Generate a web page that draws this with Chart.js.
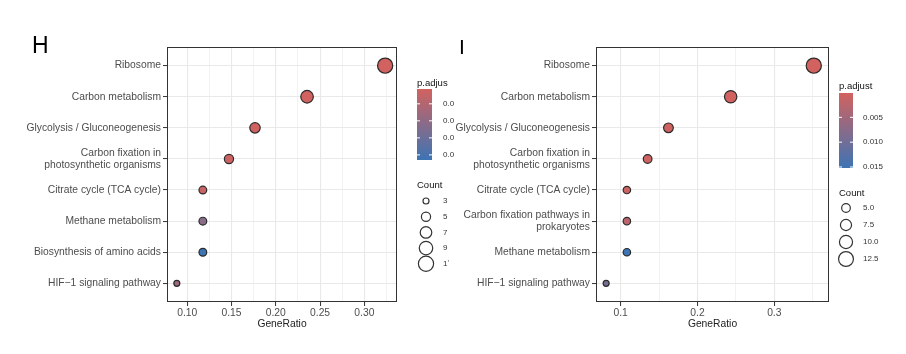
<!DOCTYPE html>
<html lang="en">
<head>
<meta charset="UTF-8" />
<title>KEGG enrichment dot plots H and I</title>
<script src="https://cdn.jsdelivr.net/npm/chart.js"></script>
<style>
  body { margin: 0; background: #fff; }
  #wrap { position: relative; width: 906px; height: 354px; }
  canvas { position: absolute; top: 0; }
</style>
</head>
<body>
<div id="wrap">
  <canvas id="chartH" width="460" height="354" style="left:0"></canvas>
  <canvas id="chartI" width="460" height="354" style="left:446px"></canvas>
</div>
<script>
// ---- panel H data ----
const hPathways = [
  "Ribosome",
  "Carbon metabolism",
  "Glycolysis / Gluconeogenesis",
  "Carbon fixation in\nphotosynthetic organisms",
  "Citrate cycle (TCA cycle)",
  "Methane metabolism",
  "Biosynthesis of amino acids",
  "HIF\u22121 signaling pathway"
];
const hGeneRatio = [0.3235, 0.2353, 0.1765, 0.1471, 0.1176, 0.1176, 0.1176, 0.0882];
const hCount = [11, 8, 6, 5, 4, 4, 4, 3];
const hPadj = [0.0013, 0.0016, 0.0022, 0.0030, 0.0035, 0.0215, 0.0430, 0.0160];
const hPadjTicks = [0.01, 0.02, 0.03, 0.04];
const hPadjLabels = ["0.0", "0.0", "0.0", "0.0"];   // cut off in the original figure
const hCountBreaks = [3, 5, 7, 9, 11];
const hCountLabels = ["3", "5", "7", "9", "1\u02BC"];

// ---- panel I data ----
const iPathways = [
  "Ribosome",
  "Carbon metabolism",
  "Glycolysis / Gluconeogenesis",
  "Carbon fixation in\nphotosynthetic organisms",
  "Citrate cycle (TCA cycle)",
  "Carbon fixation pathways in\nprokaryotes",
  "Methane metabolism",
  "HIF\u22121 signaling pathway"
];
const iGeneRatio = [0.3514, 0.2432, 0.1622, 0.1351, 0.1081, 0.1081, 0.1081, 0.0811];
const iCount = [13, 9, 6, 5, 4, 4, 4, 3];
const iPadj = [0.0001, 0.0002, 0.0004, 0.0006, 0.0008, 0.0025, 0.0152, 0.0092];
const iPadjTicks = [0.005, 0.010, 0.015];
const iPadjLabels = ["0.005", "0.010", "0.015"];
const iCountBreaks = [5, 7.5, 10, 12.5];
const iCountLabels = ["5.0", "7.5", "10.0", "12.5"];

const FONT = '"Liberation Sans", Arial, Helvetica, sans-serif';
const LOW = [210, 98, 95];    // small p.adjust
const HIGH = [61, 116, 180];  // large p.adjust
const CLEAR = "rgba(0,0,0,0)";

function mixColor(t) {
  t = Math.max(0, Math.min(1, t));
  const c = LOW.map((v, k) => Math.round(v + (HIGH[k] - v) * t));
  return `rgb(${c[0]},${c[1]},${c[2]})`;
}

// area scale like ggplot's scale_size
function radiusFor(c, cMin, cMax) {
  const rMin = 3, rMax = 7.6;
  const t = (c - cMin) / (cMax - cMin);
  return Math.sqrt(rMin * rMin + (rMax * rMax - rMin * rMin) * t);
}

const isMult = (v, s) => Math.abs(v / s - Math.round(v / s)) < 1e-6;

const frameAndLegend = {
  id: "frameAndLegend",
  afterDraw(chart, args, o) {
    const ctx = chart.ctx;
    const a = chart.chartArea;
    ctx.save();
    // panel border
    ctx.strokeStyle = "#333";
    ctx.lineWidth = 1;
    ctx.strokeRect(Math.round(a.left) + 0.5, Math.round(a.top) + 0.5,
      Math.round(a.right - a.left) - 1, Math.round(a.bottom - a.top) - 1);

    // panel letter
    ctx.fillStyle = "#000";
    ctx.textAlign = "left";
    ctx.textBaseline = "alphabetic";
    ctx.font = `${o.letterSize}px ${FONT}`;
    ctx.fillText(o.letter, o.letterX, o.letterY);

    // colour bar
    ctx.textBaseline = "middle";
    ctx.font = `9.5px ${FONT}`;
    ctx.fillStyle = "#111";
    ctx.fillText(o.colorTitle, o.barX, o.colorTitleY);
    const g = ctx.createLinearGradient(0, o.barTop, 0, o.barBottom);
    for (let s = 0; s <= 10; s++) g.addColorStop(s / 10, mixColor(s / 10));
    ctx.fillStyle = g;
    ctx.fillRect(o.barX, o.barTop, o.barW, o.barBottom - o.barTop);
    ctx.font = `8px ${FONT}`;
    o.padjTicks.forEach((t, k) => {
      const y = o.barTop + (t - o.pMin) / (o.pMax - o.pMin) * (o.barBottom - o.barTop);
      ctx.strokeStyle = "#fff";
      ctx.lineWidth = 1;
      ctx.beginPath();
      ctx.moveTo(o.barX, y); ctx.lineTo(o.barX + 3, y);
      ctx.moveTo(o.barX + o.barW - 3, y); ctx.lineTo(o.barX + o.barW, y);
      ctx.stroke();
      ctx.fillStyle = "#333";
      ctx.fillText(o.padjLabels[k], o.labelX, y);
    });

    // size legend
    ctx.font = `9.5px ${FONT}`;
    ctx.fillStyle = "#111";
    ctx.fillText("Count", o.barX, o.countTitleY);
    ctx.font = `8px ${FONT}`;
    o.countBreaks.forEach((c, k) => {
      const y = o.countY0 + k * o.countStep;
      const r = radiusFor(c, o.cMin, o.cMax);
      ctx.strokeStyle = "#333";
      ctx.lineWidth = 1.2;
      ctx.beginPath();
      ctx.arc(o.circleX, y, r, 0, Math.PI * 2);
      ctx.stroke();
      ctx.fillStyle = "#333";
      ctx.fillText(o.countLabels[k], o.labelX, y);
    });
    ctx.restore();
  }
};

function makePanel(id, p) {
  const n = p.pathways.length;
  const cMin = Math.min(...p.count), cMax = Math.max(...p.count);
  const pMin = Math.min(...p.padj), pMax = Math.max(...p.padj);
  const points = p.pathways.map((_, k) => ({ x: p.ratio[k], y: k }));
  const tickFont = { family: FONT, size: 10.3 };

  return new Chart(document.getElementById(id), {
    type: "scatter",
    data: {
      datasets: [{
        data: points,
        pointRadius: c => radiusFor(p.count[c.dataIndex], cMin, cMax),
        pointBackgroundColor: c => mixColor((p.padj[c.dataIndex] - pMin) / (pMax - pMin)),
        pointBorderColor: "#2b2b2b",
        pointBorderWidth: 1.2
      }]
    },
    options: {
      responsive: false,
      animation: false,
      events: [],
      layout: { padding: { left: 0, top: 47, right: p.padRight, bottom: 22 } },
      plugins: {
        legend: { display: false },
        tooltip: { enabled: false },
        frameAndLegend: Object.assign({ pMin, pMax, cMin, cMax }, p.legend)
      },
      scales: {
        x: {
          type: "linear",
          min: p.xMin,
          max: p.xMax,
          afterFit: s => { s.height = 30; },
          border: { display: false },
          ticks: {
            stepSize: p.xMinor,
            includeBounds: false,
            autoSkip: false,
            maxRotation: 0,
            padding: 1,
            color: "#4d4d4d",
            font: tickFont,
            callback: v => isMult(v, p.xMajor) ? v.toFixed(p.xDigits) : ""
          },
          grid: {
            color: c => c.tick && isMult(c.tick.value, p.xMinor) ? "#e9e9e9" : CLEAR,
            lineWidth: c => c.tick && isMult(c.tick.value, p.xMajor) ? 1.1 : 0.6,
            tickColor: c => c.tick && isMult(c.tick.value, p.xMajor) ? "#333" : CLEAR,
            tickWidth: 1,
            tickLength: 4
          },
          title: {
            display: true,
            text: "GeneRatio",
            color: "#222",
            font: { family: FONT, size: 10.3 },
            padding: { top: 0, bottom: 2 }
          }
        },
        y: {
          type: "linear",
          reverse: true,
          min: -0.6,
          max: n - 1 + 0.6,
          afterFit: s => { s.width = p.yWidth; },
          border: { display: false },
          ticks: {
            stepSize: 1,
            includeBounds: false,
            autoSkip: false,
            padding: 2,
            color: "#4d4d4d",
            font: tickFont,
            callback: v => isMult(v, 1) ? p.pathways[Math.round(v)].split("\n") : ""
          },
          grid: {
            color: c => c.tick && isMult(c.tick.value, 1) ? "#e9e9e9" : CLEAR,
            lineWidth: 1.1,
            tickColor: c => c.tick && isMult(c.tick.value, 1) ? "#333" : CLEAR,
            tickWidth: 1,
            tickLength: 4
          }
        }
      }
    },
    plugins: [frameAndLegend]
  });
}

makePanel("chartH", {
  pathways: hPathways, ratio: hGeneRatio, count: hCount, padj: hPadj,
  xMin: 0.0771, xMax: 0.3369, xMinor: 0.025, xMajor: 0.05, xDigits: 2,
  yWidth: 167, padRight: 63,
  legend: {
    letter: "H", letterSize: 23, letterX: 32, letterY: 53,
    colorTitle: "p.adjus", colorTitleY: 83,
    barX: 417, barW: 15, barTop: 89, barBottom: 160, labelX: 443,
    padjTicks: hPadjTicks, padjLabels: hPadjLabels,
    countTitleY: 185, circleX: 426, countY0: 201, countStep: 15.7,
    countBreaks: hCountBreaks, countLabels: hCountLabels
  }
});

makePanel("chartI", {
  pathways: iPathways, ratio: iGeneRatio, count: iCount, padj: iPadj,
  xMin: 0.0679, xMax: 0.3712, xMinor: 0.05, xMajor: 0.1, xDigits: 1,
  yWidth: 150, padRight: 77,
  legend: {
    letter: "I", letterSize: 21, letterX: 13, letterY: 54,
    colorTitle: "p.adjust", colorTitleY: 86,
    barX: 393, barW: 14, barTop: 93, barBottom: 168, labelX: 417,
    padjTicks: iPadjTicks, padjLabels: iPadjLabels,
    countTitleY: 193, circleX: 400, countY0: 208, countStep: 17,
    countBreaks: iCountBreaks, countLabels: iCountLabels
  }
});
</script>
</body>
</html>
